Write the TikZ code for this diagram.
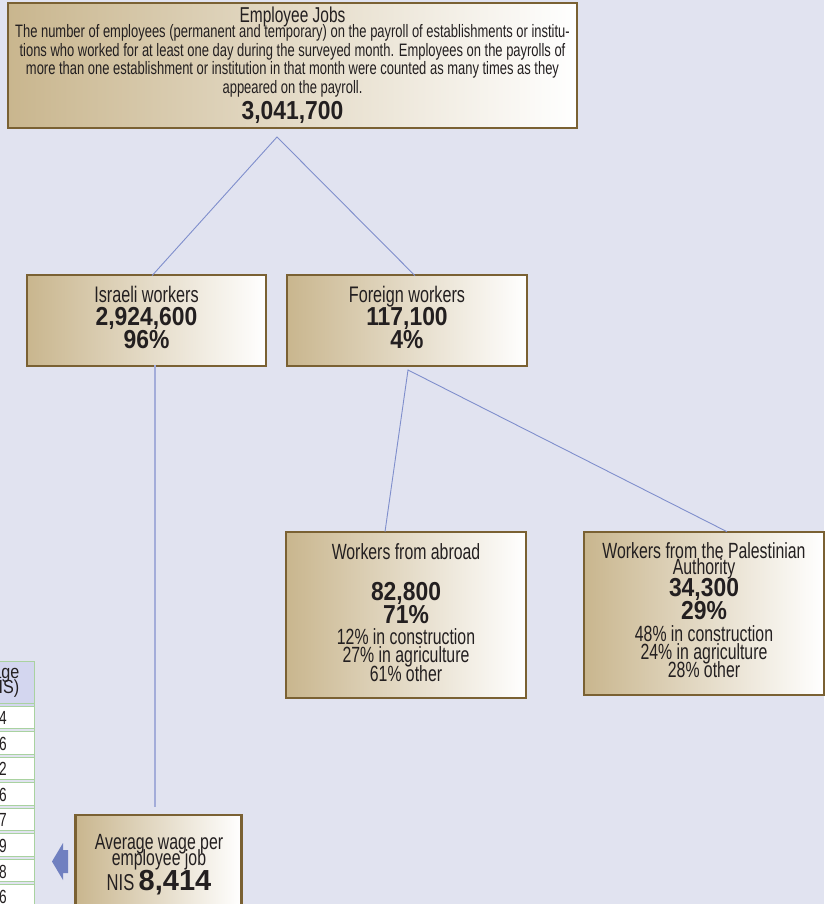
\documentclass[tikz,border=0pt]{standalone}
\usepackage{fontspec}
\setmainfont{Liberation Sans}[FakeStretch=0.72]
\newfontfamily\numfont{Liberation Sans}[FakeStretch=0.88]
\newfontfamily\widenum{Liberation Sans}
\newfontfamily\headfont{Liberation Sans}[FakeStretch=0.85]
\usetikzlibrary{calc}
\definecolor{bg}{HTML}{E1E3F0}
\definecolor{frame}{HTML}{7A6133}
\definecolor{tan}{HTML}{C9B68E}
\definecolor{ink}{HTML}{231F20}
\definecolor{conn}{HTML}{7F8ECC}
\definecolor{vconn}{HTML}{A3ACD9}
\definecolor{tgreen}{HTML}{A9D2A0}
\definecolor{thead}{HTML}{D3D6EF}
\definecolor{arrowc}{HTML}{7080C0}
\tikzset{
  every node/.append style={execute at begin node={\lineskiplimit=-100pt\lineskip=0pt}},
  box/.style={draw=frame, line width=2.6pt, left color=tan, right color=white,
    inner sep=0pt, text=ink},
  label/.style={text=ink, align=center, inner sep=0pt},
  conn/.style={draw=conn, line width=0.9pt},
  vconn/.style={draw=vconn, line width=2.8pt},
}
\newcommand{\bignum}[1]{{\numfont\bfseries\fontsize{26}{24}\selectfont #1}}
\begin{document}
\begin{tikzpicture}[x=1pt,y=-1pt]
\useasboundingbox (0,0) rectangle (824,904);
\fill[bg] (0,0) rectangle (824,904);
\begin{scope}
\clip (0,0) rectangle (824,904);
% table fragment
\fill[thead] (-20,661) rectangle (34,706);
\draw[tgreen, line width=1pt] (-20,661) -- (34,661) -- (34,906);
\foreach \y in {706,731,757,782,808,833,859,884} {
  \fill[white] (-20,\y) rectangle (33.5,\y+23);
  \draw[tgreen, line width=0.9pt] (-20,\y) -- (34,\y);
  \draw[tgreen, line width=0.9pt] (-20,\y-2.5) -- (34,\y-2.5);
}
\node[label, anchor=east, align=right, font=\headfont\fontsize{19}{15}\selectfont] (thd) at (19.5,683) {wage\\(NIS)};
\foreach \d [count=\i from 0] in {4,6,2,6,7,9,8,6} {
  \node[label, anchor=east, font=\fontsize{19}{18}\selectfont] (td\i) at (7,718+25.6*\i) {\d};
}
\node[box, minimum width=166pt, minimum height=96pt] (wage) at (158.5,863) {};
\node[label, font=\fontsize{22}{16.5}\selectfont] (waget) at (159,864.5)
  {Average wage per\\employee job\\[8pt] {\fontsize{23}{16}\selectfont NIS} {\widenum\bfseries\fontsize{29}{20}\selectfont 8,414}};
\end{scope}

% boxes
\node[box, minimum width=569pt, minimum height=125pt] (top) at (292.5,65.5) {};
\node[label, font=\fontsize{18}{18.6}\selectfont] (topt) at (292.5,65) {%
{\fontsize{21.5}{16}\selectfont Employee Jobs}\\[-3.5pt]
The number of employees (permanent and temporary) on the payroll of establishments or institu-\\
tions who worked for at least one day during the surveyed month. Employees on the payrolls of\\
more than one establishment or institution in that month were counted as many times as they\\
appeared on the payroll.\\[7pt]
{\numfont\bfseries\fontsize{26}{24}\selectfont 3,041,700}};

\node[box, minimum width=239pt, minimum height=91pt] (isr) at (146.5,320.5) {};
\node[label, font=\fontsize{22.5}{23}\selectfont] (isrt) at (146.5,317)
  {Israeli workers\\\bignum{2,924,600}\\\bignum{96\%}};
\node[box, minimum width=240pt, minimum height=91pt] (for) at (407,320.5) {};
\node[label, font=\fontsize{22.5}{23}\selectfont] (fort) at (407,317)
  {Foreign workers\\\bignum{117,100}\\\bignum{4\%}};

\node[box, minimum width=240pt, minimum height=166pt] (abr) at (406,615) {};
\node[label, font=\fontsize{22}{18.5}\selectfont] (abrt) at (406,612.5)
  {Workers from abroad\\[22.5pt]\bignum{82,800}\\[4.5pt]\bignum{71\%}\\[2.5pt]12\% in construction\\27\% in agriculture\\61\% other};
\node[box, minimum width=240pt, minimum height=163pt] (pal) at (704,613.5) {};
\node[label, font=\fontsize{22}{18}\selectfont] (palt) at (704,610.5)
  {Workers from the Palestinian\\[-2pt]Authority\\[4pt]\bignum{34,300}\\[5pt]\bignum{29\%}\\[4pt]48\% in construction\\24\% in agriculture\\28\% other};

% arrow
\fill[arrowc] (52,861.5) -- (63,843) -- (63,850) -- (68,850) -- (68,873) -- (63,873) -- (63,880) -- cycle;

% connectors
\coordinate (fork1) at (277,137);
\coordinate (fork2) at (408,370);
\draw[conn] ([xshift=5.5pt,yshift=-2pt]isr.north) -- (fork1) -- ([xshift=8pt,yshift=-2pt]for.north);
\draw[conn] ([xshift=-21pt,yshift=-1pt]abr.north) -- (fork2) -- ([xshift=23pt,yshift=-1pt]pal.north);
\coordinate (vend) at (155,807);
\draw[vconn] ([xshift=8.5pt,yshift=2pt]isr.south) -- (vend);
\end{tikzpicture}
\end{document}
